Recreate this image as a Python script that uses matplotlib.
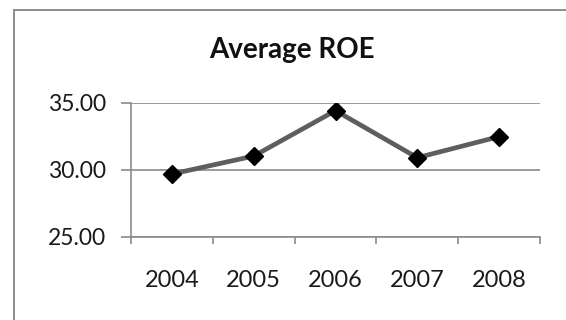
import matplotlib
matplotlib.use("Agg")
import matplotlib.pyplot as plt
from matplotlib.lines import Line2D
from matplotlib.ticker import FixedLocator

years = ["2004", "2005", "2006", "2007", "2008"]
roe = [29.70, 31.04, 34.43, 30.92, 32.49]
y_ticks = [25.00, 30.00, 35.00]

plt.rcParams["font.family"] = ["Lato", "DejaVu Sans"]

W, H = 566, 320
fig = plt.figure(figsize=(W / 100, H / 100), dpi=100)

# chart frame (top and left edges)
fig.add_artist(Line2D([14 / W, 1.0], [1 - 10 / H, 1 - 10 / H], color="#8c8c8c", lw=1.4,
                      transform=fig.transFigure))
fig.add_artist(Line2D([14 / W, 14 / W], [1 - 10 / H, 0.0], color="#8c8c8c", lw=1.4,
                      transform=fig.transFigure))

ax = fig.add_axes([131 / W, 1 - 237 / H, (540 - 131) / W, (237 - 103) / H])
x = list(range(len(years)))
ax.plot(x, roe, color="#5e5e5e", lw=3.4, marker="D", markersize=9,
        markerfacecolor="black", markeredgecolor="black", zorder=3)

ax.set_xlim(-0.5, len(years) - 0.5)
ax.set_ylim(y_ticks[0], y_ticks[-1])
ax.set_yticks(y_ticks)
ax.set_yticklabels([f"{v:.2f}" for v in y_ticks])
ax.set_xticks(x)
ax.set_xticklabels(years)
ax.xaxis.set_minor_locator(FixedLocator([i - 0.5 for i in range(len(years) + 1)]))

ax.yaxis.grid(True, color="#8a8a8a", lw=1.2)
ax.set_axisbelow(True)
for s in ["top", "right"]:
    ax.spines[s].set_visible(False)
for s in ["left", "bottom"]:
    ax.spines[s].set_color("#8a8a8a")
    ax.spines[s].set_linewidth(1.2)

ax.tick_params(axis="y", length=7, width=1.2, color="#8a8a8a", pad=11,
               labelsize=16.5, labelcolor="#1a1a1a")
ax.tick_params(axis="x", which="major", length=0, pad=24, labelsize=17,
               labelcolor="#1a1a1a")
ax.tick_params(axis="x", which="minor", length=5, width=1.2, color="#8a8a8a")

fig.text(292 / W, 1 - 50 / H, "Average ROE", ha="center", va="center",
         fontsize=20, fontweight="bold", color="#111111")

fig.savefig("out.png", dpi=100)
